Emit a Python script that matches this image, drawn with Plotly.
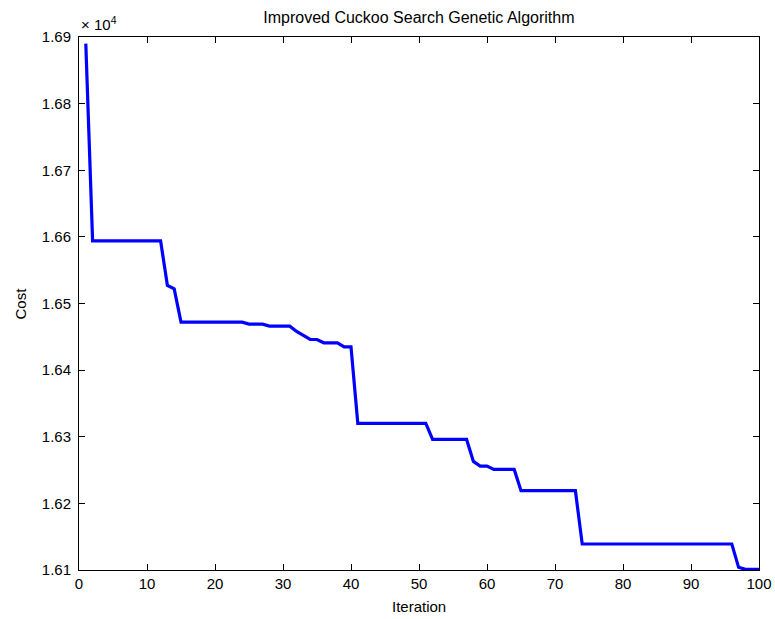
import plotly.graph_objects as go

iterations = list(range(1, 101))
cost = [
    16890, 16594, 16594, 16594, 16594, 16594, 16594, 16594, 16594, 16594,  # 1-10
    16594, 16594, 16527, 16522, 16472, 16472, 16472, 16472, 16472, 16472,  # 11-20
    16472, 16472, 16472, 16472, 16469, 16469, 16469, 16466, 16466, 16466,  # 21-30
    16466, 16458, 16452, 16446, 16446, 16441, 16441, 16441, 16435, 16435,  # 31-40
    16320, 16320, 16320, 16320, 16320, 16320, 16320, 16320, 16320, 16320,  # 41-50
    16320, 16296, 16296, 16296, 16296, 16296, 16296, 16263, 16256, 16256,  # 51-60
    16251, 16251, 16251, 16251, 16219, 16219, 16219, 16219, 16219, 16219,  # 61-70
    16219, 16219, 16219, 16139, 16139, 16139, 16139, 16139, 16139, 16139,  # 71-80
    16139, 16139, 16139, 16139, 16139, 16139, 16139, 16139, 16139, 16139,  # 81-90
    16139, 16139, 16139, 16139, 16139, 16139, 16104, 16101, 16101, 16101,  # 91-100
]

x_ticks = [0, 10, 20, 30, 40, 50, 60, 70, 80, 90, 100]
y_ticks = [16100, 16200, 16300, 16400, 16500, 16600, 16700, 16800, 16900]
y_tick_labels = ["1.61", "1.62", "1.63", "1.64", "1.65", "1.66", "1.67", "1.68", "1.69"]

FONT = "Liberation Sans, Arial, sans-serif"

fig = go.Figure()
fig.add_trace(go.Scatter(
    x=iterations, y=cost, mode="lines",
    line=dict(color="#0000FF", width=3.2),
    showlegend=False,
))

axis_common = dict(
    showgrid=False, zeroline=False, automargin=False,
    showline=True, linecolor="black", linewidth=1, mirror="ticks",
    ticks="inside", ticklen=6, tickcolor="black", tickwidth=1,
    tickfont=dict(family=FONT, size=15, color="black"),
)

fig.update_layout(
    width=775, height=619,
    margin=dict(l=79, r=16, t=37, b=49, autoexpand=False),
    paper_bgcolor="white", plot_bgcolor="white",
    xaxis=dict(range=[0, 100], tickvals=x_ticks, **axis_common),
    yaxis=dict(range=[16100, 16900], tickvals=y_ticks, ticktext=y_tick_labels,
               ticklabelstandoff=4, **axis_common),
    title=dict(text="Improved Cuckoo Search Genetic Algorithm",
               font=dict(family=FONT, size=16, color="black"),
               x=0.5405, xanchor="center", y=1 - 17 / 619, yanchor="middle",
               xref="container", yref="container"),
    annotations=[
        dict(text="× 10<sup>4</sup>", xref="paper", yref="paper", x=0, y=1,
             xanchor="left", yanchor="bottom", showarrow=False, yshift=2,
             font=dict(family=FONT, size=15, color="black")),
        dict(text="Iteration", xref="paper", yref="paper", x=0.5, y=0,
             xanchor="center", yanchor="middle", showarrow=False, yshift=-36,
             font=dict(family=FONT, size=15, color="black")),
        dict(text="Cost", xref="paper", yref="paper", x=0, y=0.5,
             xanchor="center", yanchor="middle", showarrow=False, xshift=-59,
             textangle=-90, font=dict(family=FONT, size=15, color="black")),
    ],
)

fig.write_html("out.html")
